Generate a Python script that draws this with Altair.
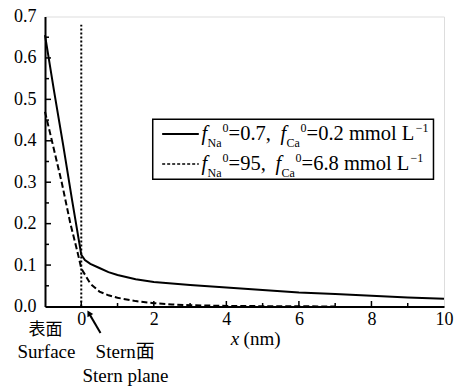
import altair as alt
import pandas as pd

FONT = "Liberation Serif"
CJK = "Liberation Serif, Noto Sans CJK SC"

# --- curve data ---
solid_x = [-1, -0.75, -0.5, -0.25, 0, 0.1, 0.25, 0.5, 0.75, 1, 1.5, 2, 3, 4, 5, 6, 7, 8, 9, 10]
solid_y = [0.655, 0.52, 0.39, 0.255, 0.125, 0.112, 0.103, 0.093, 0.083, 0.076, 0.066, 0.059, 0.052, 0.046, 0.040, 0.034, 0.030, 0.026, 0.022, 0.019]
dash_x = [-1, -0.81, -0.54, -0.30, -0.1, 0, 0.25, 0.5, 0.75, 1, 1.5, 2, 2.5, 3, 4, 5, 6, 7]
dash_y = [0.47, 0.40, 0.30, 0.20, 0.13, 0.092, 0.055, 0.036, 0.027, 0.021, 0.013, 0.008, 0.005, 0.003, 0.0015, 0.0008, 0.0004, 0.0002]

x_labels = [0, 2, 4, 6, 8, 10]
x_major = [0, 2, 4, 6, 8]
x_minor = [1, 3, 5, 7, 9]
y_labels = [0.0, 0.1, 0.2, 0.3, 0.4, 0.5, 0.6, 0.7]
y_major = [0.1, 0.2, 0.3, 0.4, 0.5, 0.6]
y_minor = [0.05, 0.15, 0.25, 0.35, 0.45, 0.55, 0.65]

stern_x = 0
stern_top = 0.68

# legend box & samples (data units)
box = {"x": 1.97, "x2": 9.71, "y": 0.4518, "y2": 0.3070}
sample_x = [2.23, 3.24]
sample_y = [0.4164, 0.344]

# legend text pieces: text, x, y(baseline), size, italic
leg_text = [
    ("f", 3.317, 0.4019, 20.5, True), ("Na", 3.482, 0.385, 12, False), ("0", 3.896, 0.4212, 12, False),
    ("=0.7,", 4.061, 0.4019, 20.5, False),
    ("f", 5.495, 0.4019, 20.5, True), ("Ca", 5.661, 0.385, 12, False), ("0", 6.047, 0.4212, 12, False),
    ("=0.2 mmol L", 6.212, 0.4019, 20.5, False), ("\u22121", 9.218, 0.4212, 12, False),
    ("f", 3.317, 0.3295, 20.5, True), ("Na", 3.482, 0.3126, 12, False), ("0", 3.896, 0.3488, 12, False),
    ("=95,", 4.061, 0.3295, 20.5, False),
    ("f", 5.357, 0.3295, 20.5, True), ("Ca", 5.523, 0.3126, 12, False), ("0", 5.909, 0.3488, 12, False),
    ("=6.8 mmol L", 6.074, 0.3295, 20.5, False), ("\u22121", 9.079, 0.3488, 12, False),
    ("x", 4.12, -0.093, 19, True), ("(nm)", 4.475, -0.093, 19, False),
]
# centered annotations below the axis
ann_text = [
    ("表面", -0.984, -0.0688, 17),
    ("Surface", -0.96, -0.125, 19),
    ("Stern面", 1.21, -0.125, 19),
    ("Stern plane", 1.22, -0.1815, 19),
]
arrow = {"x": 0.53, "y": -0.064, "x2": 0.21, "y2": -0.016}

xs = alt.Scale(domain=[-1, 10], nice=False, zero=False)
ys = alt.Scale(domain=[0, 0.7], nice=False)

curves = pd.DataFrame(
    [{"x": a, "y": b, "s": "solid"} for a, b in zip(solid_x, solid_y)]
    + [{"x": a, "y": b, "s": "dash"} for a, b in zip(dash_x, dash_y)]
)

base_axes = alt.Chart(pd.DataFrame({"x": [0], "y": [0]})).mark_point(opacity=0).encode(
    x=alt.X("x:Q", scale=xs, title=None,
            axis=alt.Axis(values=x_labels, ticks=False, tickSize=0, grid=False, labelFont=FONT,
                          labelFontSize=18, labelColor="black", labelPadding=4,
                          domainColor="black", domainWidth=2, labelFlush=False)),
    y=alt.Y("y:Q", scale=ys, title=None,
            axis=alt.Axis(values=y_labels, format=".1f", ticks=False, tickSize=0, grid=False,
                          labelFont=FONT, labelFontSize=18, labelColor="black", labelPadding=9,
                          domainColor="black", domainWidth=2, labelFlush=False)),
)

solid = alt.Chart(curves[curves.s == "solid"]).mark_line(color="black", strokeWidth=2).encode(
    x=alt.X("x:Q", scale=xs), y=alt.Y("y:Q", scale=ys))
dashed = alt.Chart(curves[curves.s == "dash"]).mark_line(color="black", strokeWidth=2, strokeDash=[6, 3]).encode(
    x=alt.X("x:Q", scale=xs), y=alt.Y("y:Q", scale=ys))

stern = alt.Chart(pd.DataFrame({"x": [stern_x], "y": [0], "y2": [stern_top]})).mark_rule(
    color="black", strokeWidth=2, strokeDash=[2, 2]).encode(
    x=alt.X("x:Q", scale=xs), y=alt.Y("y:Q", scale=ys), y2="y2:Q")

xt_major = alt.Chart(pd.DataFrame({"x": x_major})).mark_rule(color="black", strokeWidth=1.5).encode(
    x=alt.X("x:Q", scale=xs), y=alt.value(290), y2=alt.value(284.5))
xt_minor = alt.Chart(pd.DataFrame({"x": x_minor})).mark_rule(color="black", strokeWidth=1.5).encode(
    x=alt.X("x:Q", scale=xs), y=alt.value(290), y2=alt.value(286.5))
yt_major = alt.Chart(pd.DataFrame({"y": y_major})).mark_rule(color="black", strokeWidth=1.5).encode(
    y=alt.Y("y:Q", scale=ys), x=alt.value(0), x2=alt.value(6))
yt_minor = alt.Chart(pd.DataFrame({"y": y_minor})).mark_rule(color="black", strokeWidth=1.5).encode(
    y=alt.Y("y:Q", scale=ys), x=alt.value(0), x2=alt.value(4))

legbox = alt.Chart(pd.DataFrame([box])).mark_rect(fill="white", stroke="black", strokeWidth=1.5).encode(
    x=alt.X("x:Q", scale=xs), x2="x2:Q", y=alt.Y("y:Q", scale=ys), y2="y2:Q")
samp1 = alt.Chart(pd.DataFrame({"x": [sample_x[0]], "x2": [sample_x[1]], "y": [sample_y[0]]})).mark_rule(
    color="black", strokeWidth=2).encode(x=alt.X("x:Q", scale=xs), x2="x2:Q", y=alt.Y("y:Q", scale=ys))
samp2 = alt.Chart(pd.DataFrame({"x": [sample_x[0]], "x2": [sample_x[1]], "y": [sample_y[1]]})).mark_rule(
    color="black", strokeWidth=1.5, strokeDash=[3, 2]).encode(x=alt.X("x:Q", scale=xs), x2="x2:Q", y=alt.Y("y:Q", scale=ys))

lt = pd.DataFrame(leg_text, columns=["t", "x", "y", "size", "it"])
lt_norm = alt.Chart(lt[~lt.it]).mark_text(font=FONT, align="left", baseline="alphabetic", color="black").encode(
    x=alt.X("x:Q", scale=xs), y=alt.Y("y:Q", scale=ys), text="t:N", size=alt.Size("size:Q", scale=None, legend=None))
lt_it = alt.Chart(lt[lt.it]).mark_text(font=FONT, fontStyle="italic", align="left", baseline="alphabetic", color="black").encode(
    x=alt.X("x:Q", scale=xs), y=alt.Y("y:Q", scale=ys), text="t:N", size=alt.Size("size:Q", scale=None, legend=None))

at = pd.DataFrame(ann_text, columns=["t", "x", "y", "size"])
ann = alt.Chart(at).mark_text(font=CJK, align="center", baseline="alphabetic", color="black").encode(
    x=alt.X("x:Q", scale=xs), y=alt.Y("y:Q", scale=ys), text="t:N", size=alt.Size("size:Q", scale=None, legend=None))

arr_line = alt.Chart(pd.DataFrame([arrow])).mark_rule(color="black", strokeWidth=2).encode(
    x=alt.X("x:Q", scale=xs), x2="x2:Q", y=alt.Y("y:Q", scale=ys), y2="y2:Q")
arr_head = alt.Chart(pd.DataFrame({"x": [arrow["x2"]], "y": [arrow["y2"]]})).mark_point(
    shape="triangle-up", filled=True, color="black", size=45, angle=330, opacity=1).encode(
    x=alt.X("x:Q", scale=xs), y=alt.Y("y:Q", scale=ys))

chart = alt.layer(
    base_axes, stern, solid, dashed, xt_major, xt_minor, yt_major, yt_minor,
    legbox, samp1, samp2, lt_norm, lt_it, ann, arr_line, arr_head
).properties(
    width=399, height=290,
    autosize=alt.AutoSizeParams(type="none"),
    padding={"left": 37, "top": 8.5, "right": 15, "bottom": 80},
).configure_view(stroke="black", strokeWidth=2).configure(background="white")

chart.save("out.html", embed_options={"renderer": "svg", "actions": False})
